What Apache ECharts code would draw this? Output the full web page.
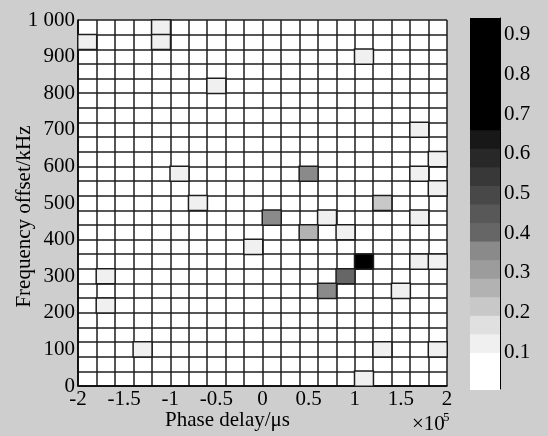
<!DOCTYPE html>
<html>
<head>
<meta charset="utf-8">
<script src="https://cdn.jsdelivr.net/npm/echarts@6/dist/echarts.min.js"></script>
<style>
html, body { margin: 0; padding: 0; background: #cecece; }
#board { width: 548px; height: 436px; }
</style>
</head>
<body>
<div id="board"></div>
<script>
// phase delay bins (x10^5 us), each 0.2 wide
var phaseBins = [-2.0, -1.8, -1.6, -1.4, -1.2, -1.0, -0.8, -0.6, -0.4, -0.2,
                 0.0, 0.2, 0.4, 0.6, 0.8, 1.0, 1.2, 1.4, 1.6, 1.8];
// frequency offset bins (kHz), each 40 wide
var freqBins = [0, 40, 80, 120, 160, 200, 240, 280, 320, 360, 400, 440, 480,
                520, 560, 600, 640, 680, 720, 760, 800, 840, 880, 920, 960];

// non-empty cells: [phase bin index, freq bin index, value]
var cells = [
  [4, 24, 0.12], [0, 23, 0.12], [4, 23, 0.12], [15, 22, 0.12], [7, 20, 0.12],
  [18, 17, 0.12], [19, 15, 0.12], [5, 14, 0.12], [18, 14, 0.12], [12, 14, 0.36],
  [19, 13, 0.12], [6, 12, 0.12], [16, 12, 0.22], [10, 11, 0.35], [13, 11, 0.12],
  [18, 11, 0.12], [12, 10, 0.26], [14, 10, 0.12], [9, 9, 0.12], [15, 8, 0.94],
  [18, 8, 0.12], [19, 8, 0.12], [1, 7, 0.12], [14, 7, 0.41], [13, 6, 0.36],
  [17, 6, 0.12], [1, 5, 0.12], [3, 2, 0.12], [16, 2, 0.12], [19, 2, 0.12],
  [15, 0, 0.12]
];

// colour bar levels
var levelEdges = [0.0067, 0.0535, 0.1002, 0.1470, 0.1938, 0.2406, 0.2873,
                  0.3341, 0.3809, 0.4276, 0.4744, 0.5212, 0.5680, 0.6147,
                  0.6615, 0.7083, 0.7550, 0.8018, 0.8486, 0.8954, 0.9421];
var levelColors = ['#ffffff', '#ffffff', '#f0f0f0', '#e0e0e0', '#c8c8c8',
                   '#b2b2b2', '#9c9c9c', '#8a8a8a', '#666666', '#585858',
                   '#484848', '#383838', '#282828', '#181818', '#000000',
                   '#000000', '#000000', '#000000', '#000000', '#000000'];

var font = 'Liberation Serif';
var txt = { fontFamily: font, fontSize: 21, color: '#000' };
var gridLine = { show: true, interval: 0, lineStyle: { color: '#1e1e1e', width: 1.5 } };

var pieces = [];
var levels = [];
for (var k = 0; k < levelColors.length; k++) {
  pieces.push({ gte: levelEdges[k], lt: levelEdges[k + 1] + (k === levelColors.length - 1 ? 1e-6 : 0), color: levelColors[k] });
  levels.push([levelEdges[k], levelEdges[k + 1], k]);
}

var myChart = echarts.init(document.getElementById('board'));
myChart.setOption({
  animation: false,
  backgroundColor: '#cecece',
  grid: [
    { left: 78, top: 20, width: 369, height: 368, show: true, backgroundColor: '#fff', borderWidth: 0 },
    { left: 470, top: 18, width: 30, height: 371 }
  ],
  xAxis: [
    {
      type: 'category', gridIndex: 0, data: phaseBins, position: 'bottom',
      axisLine: { show: false }, axisTick: { show: false }, axisLabel: { show: false },
      splitLine: gridLine,
      name: 'Phase delay/\u03bcs', nameLocation: 'middle', nameGap: 24,
      nameTextStyle: { fontFamily: font, fontSize: 21, color: '#000', padding: [0, 70, 0, 0] }
    },
    {
      type: 'value', gridIndex: 0, min: -2, max: 2, interval: 0.5, position: 'bottom',
      axisLine: { show: true, onZero: false, lineStyle: { color: '#000', width: 1.5 } },
      axisTick: { show: false }, splitLine: { show: false },
      axisLabel: Object.assign({ margin: 3 }, txt)
    },
    {
      type: 'value', gridIndex: 1, min: 0, max: 1, show: false
    }
  ],
  yAxis: [
    {
      type: 'category', gridIndex: 0, data: freqBins,
      axisLine: { show: false }, axisTick: { show: false }, axisLabel: { show: false },
      splitLine: gridLine,
      name: 'Frequency offset/kHz', nameLocation: 'middle', nameGap: 43,
      nameTextStyle: { fontFamily: font, fontSize: 21, color: '#000', padding: [0, 27, 0, 0] }
    },
    {
      type: 'value', gridIndex: 0, min: 0, max: 1000, interval: 100, position: 'left',
      axisLine: { show: true, onZero: false, lineStyle: { color: '#000', width: 1.5 } },
      axisTick: { show: false }, splitLine: { show: false },
      axisLabel: Object.assign({
        margin: 3,
        formatter: function (v) { return v === 1000 ? '1 000' : String(v); }
      }, txt)
    },
    {
      type: 'value', gridIndex: 1, min: levelEdges[0], max: levelEdges[levelEdges.length - 1],
      splitNumber: 9, position: 'right',
      axisLine: { show: true, onZero: false, lineStyle: { color: '#000', width: 1 } },
      axisTick: { show: true, inside: true, length: 4, lineStyle: { color: '#000' } },
      splitLine: { show: false },
      axisLabel: Object.assign({
        margin: 4,
        formatter: function (v) {
          return Math.abs(v * 10 - Math.round(v * 10)) < 1e-6 ? v.toFixed(1) : '';
        }
      }, txt)
    },
    {
      type: 'value', gridIndex: 1, min: levelEdges[0], max: levelEdges[levelEdges.length - 1],
      splitNumber: 9, position: 'left',
      axisLine: { show: false, onZero: false },
      axisTick: { show: true, inside: true, length: 4, lineStyle: { color: '#000' } },
      axisLabel: { show: false }, splitLine: { show: false }
    }
  ],
  visualMap: {
    type: 'piecewise', show: false, seriesIndex: 0, dimension: 2, pieces: pieces
  },
  series: [
    {
      type: 'heatmap', xAxisIndex: 0, yAxisIndex: 0, data: cells,
      itemStyle: { borderColor: '#1e1e1e', borderWidth: 1.5 },
      emphasis: { disabled: true }
    },
    {
      type: 'custom', xAxisIndex: 2, yAxisIndex: 2, data: levels, z: 1,
      renderItem: function (params, api) {
        var lo = api.coord([0, api.value(0)]);
        var hi = api.coord([1, api.value(1)]);
        var c = levelColors[api.value(2)];
        return {
          type: 'rect',
          shape: { x: lo[0], y: hi[1], width: hi[0] - lo[0], height: lo[1] - hi[1] + 1 },
          style: { fill: c, stroke: null, lineWidth: 0 }
        };
      }
    }
  ],
  graphic: [
    { type: 'text', left: 412, top: 414, style: { text: '\u00d710', font: '21px "Liberation Serif"', fill: '#000' } },
    { type: 'text', left: 443, top: 411, style: { text: '5', font: '13px "Liberation Serif"', fill: '#000' } }
  ]
});
</script>
</body>
</html>
